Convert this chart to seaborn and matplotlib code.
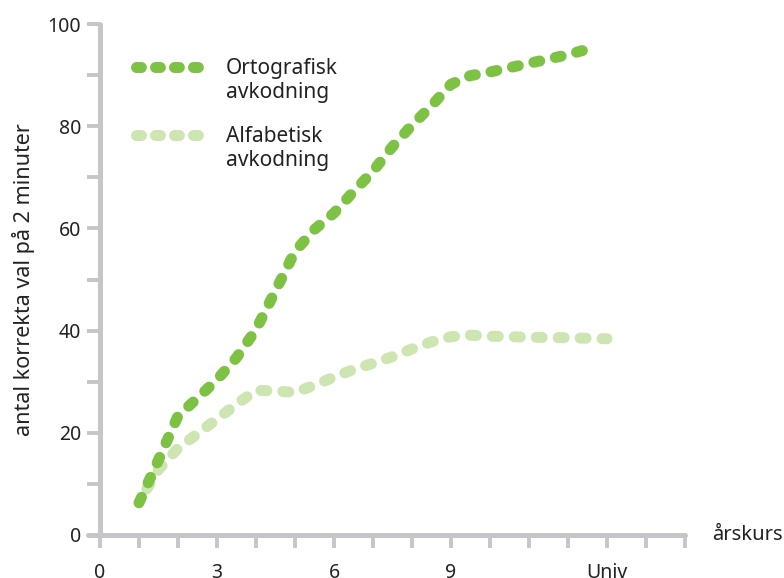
import matplotlib
matplotlib.use("Agg")
import matplotlib.pyplot as plt
from matplotlib.lines import Line2D
import seaborn as sns
import pandas as pd

# ---- data ----
orto_x = [1.0, 1.5, 2.0, 2.5, 3.0, 3.5, 4.0, 4.5, 5.0, 5.5, 6.0, 6.5, 7.0, 7.5, 8.0, 8.5, 9.0, 9.5, 10.0, 11.0, 12.0, 12.7]
orto_y = [6.3, 14.7, 23.3, 26.8, 30.4, 34.7, 40.2, 47.8, 55.5, 59.8, 63.0, 67.2, 71.2, 76.0, 80.2, 84.0, 88.2, 89.9, 90.6, 92.3, 94.0, 95.5]

alfa_x = [1.2, 1.5, 2.0, 2.5, 3.0, 3.5, 4.0, 4.5, 5.0, 5.5, 6.0, 6.5, 7.0, 7.5, 8.0, 8.5, 9.0, 9.5, 10.0, 11.0, 12.0, 13.0]
alfa_y = [9.0, 12.8, 17.0, 19.8, 22.7, 25.6, 28.3, 28.2, 27.9, 29.3, 30.9, 32.4, 33.6, 34.9, 36.4, 37.8, 38.8, 39.1, 38.9, 38.7, 38.6, 38.4]

series_names = ["Ortografisk\navkodning", "Alfabetisk\navkodning"]
x_tick_pos = list(range(0, 16))
x_tick_labels = ["0", "", "", "3", "", "", "6", "", "", "9", "", "", "", "Univ", "", ""]
y_tick_pos = list(range(0, 101, 10))
y_tick_labels = ["0", "", "20", "", "40", "", "60", "", "80", "", "100"]
x_axis_title = "årskurs"
y_axis_title = "antal korrekta val på 2 minuter"

# ---- style ----
DARK = "#7dc242"
LIGHT = "#cde5b0"
AXIS = "#c6c6ca"
TEXT = "#222222"

sns.set_style("white")
plt.rcParams["font.family"] = ["Noto Sans", "DejaVu Sans"]

W, H = 784, 578
fig = plt.figure(figsize=(W / 100, H / 100), dpi=100)
x_left_px, x_right_px = 88.3, 685.0
y_bot_px, y_top_px = 535.0, 24.0
ax = fig.add_axes([x_left_px / W, (H - y_bot_px) / H,
                   (x_right_px - x_left_px) / W, (y_bot_px - y_top_px) / H])

lw = 7.9
dash = (0, (0.55, 1.45))

df_o = pd.DataFrame({"x": orto_x, "y": orto_y})
df_a = pd.DataFrame({"x": alfa_x, "y": alfa_y})

sns.lineplot(data=df_a, x="x", y="y", ax=ax, color=LIGHT, lw=lw, linestyle=dash,
             dash_capstyle="round", solid_capstyle="round", sort=False,
             legend=False, zorder=3)
sns.lineplot(data=df_o, x="x", y="y", ax=ax, color=DARK, lw=lw, linestyle=dash,
             dash_capstyle="round", solid_capstyle="round", sort=False,
             legend=False, zorder=4)

ax.set_xlim(-0.3, 15)
ax.set_ylim(0, 100)

for side in ["top", "right"]:
    ax.spines[side].set_visible(False)
ax.spines["left"].set_position(("data", 0))
for side in ["left", "bottom"]:
    ax.spines[side].set_color(AXIS)
    ax.spines[side].set_linewidth(3.6)
    ax.spines[side].set_capstyle("round")

ax.set_xticks(x_tick_pos)
ax.set_xticklabels(x_tick_labels)
ax.set_yticks(y_tick_pos)
ax.set_yticklabels(y_tick_labels)
ax.tick_params(axis="both", direction="out", length=9.5, width=2.8, color=AXIS,
               labelsize=14, labelcolor=TEXT, bottom=True, left=True)
ax.tick_params(axis="x", pad=11)
ax.tick_params(axis="y", pad=4)
for t in ax.xaxis.get_ticklines() + ax.yaxis.get_ticklines():
    t.set_solid_capstyle("round")

ax.set_xlabel("")
ax.set_ylabel(y_axis_title, fontsize=15.5, color=TEXT, labelpad=9)
ax.text(15.7, 0, x_axis_title, fontsize=14.5, color=TEXT, ha="left", va="center",
        clip_on=False)

leg_dash = (0, (0.45, 1.28))
handles = [Line2D([], [], color=DARK, lw=lw, linestyle=leg_dash, dash_capstyle="round"),
           Line2D([], [], color=LIGHT, lw=lw, linestyle=leg_dash, dash_capstyle="round")]
leg = ax.legend(handles, series_names,
                loc="upper left", bbox_to_anchor=(0.0667, 0.95), frameon=False,
                fontsize=15, handlelength=3.12, handletextpad=1.18,
                labelspacing=1.1, handleheight=1.2, borderaxespad=0)
for t in leg.get_texts():
    t.set_color(TEXT)
try:
    for col in leg._legend_handle_box.get_children():
        for row in col.get_children():
            row.align = "top"
except Exception:
    pass

fig.savefig("out.png", dpi=100)
